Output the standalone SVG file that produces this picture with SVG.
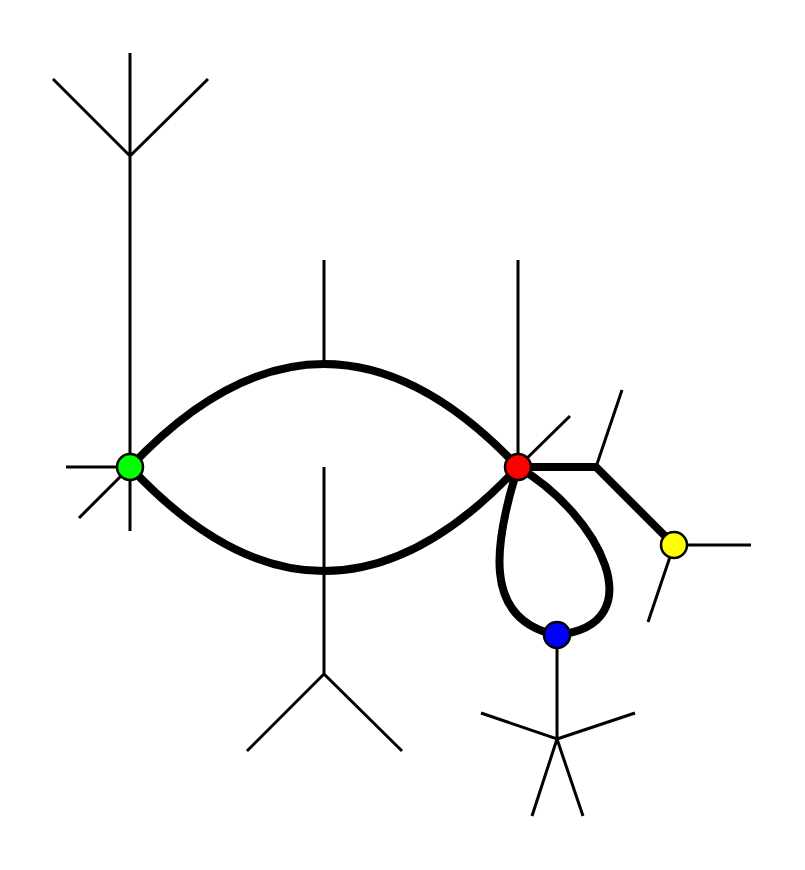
<svg xmlns="http://www.w3.org/2000/svg" width="805" height="870" viewBox="0 0 805 870">
<style>
.t{stroke:#000;stroke-width:3;fill:none;stroke-linecap:butt}
.e{stroke:#000;stroke-width:8;fill:none}
.n{stroke:#000;stroke-width:2.5}
</style>
<rect width="805" height="870" fill="#fff"/>
<g id="stubs">
<path class="t" d="M130,467V156M130,156V53M130,156L53,79M130,156L208,79M130,467H66M130,467L79,518M130,467V531"/>
<path class="t" d="M324,364V260M324,571V467M324,571V674L247,751M324,674L402,751"/>
<path class="t" d="M518,467V260M518,467L570,416M596,467L622,390"/>
<path class="t" d="M674,545H751M674,545L648,622"/>
<path class="t" d="M557,635V739L481,713M557,739L635,713M557,739L532,816M557,739L583,816"/>
</g>
<g id="connectors">
<path class="e" d="M130,467Q324,261 518,467"/>
<path class="e" d="M130,467Q324,675 518,467"/>
<path class="e" d="M518,467H596L674,545"/>
<path class="e" d="M518,467C495,540 480,620 557,635"/>
<path class="e" d="M518,467C600,515 655,625 557,635"/>
</g>
<g id="green"><circle class="n" cx="130" cy="467" r="13" fill="#00ff00"/></g>
<g id="red"><circle class="n" cx="518" cy="467" r="13" fill="#ff0000"/></g>
<g id="yellow"><circle class="n" cx="674" cy="545" r="13" fill="#ffff00"/></g>
<g id="blue"><circle class="n" cx="557" cy="635" r="13" fill="#0000ff"/></g>
</svg>
